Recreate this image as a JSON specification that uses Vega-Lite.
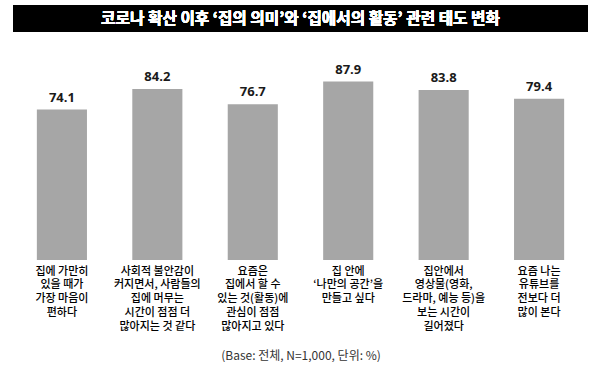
{
  "$schema": "https://vega.github.io/schema/vega-lite/v6.json",
  "background": "white",
  "padding": {"left": 13, "top": 5, "right": 12, "bottom": 0},
  "config": {
    "view": {"stroke": null},
    "font": "Noto Sans CJK KR"
  },
  "data": {
    "values": [
      {"label": "집에 가만히|있을 때가|가장 마음이|편하다", "value": 74.1},
      {"label": "사회적 불안감이|커지면서, 사람들의|집에 머무는|시간이 점점 더|많아지는 것 같다", "value": 84.2},
      {"label": "요즘은|집에서 할 수|있는 것(활동)에|관심이 점점|많아지고 있다", "value": 76.7},
      {"label": "집 안에|‘나만의 공간’을|만들고 싶다", "value": 87.9},
      {"label": "집안에서|영상물(영화,|드라마, 예능 등)을|보는 시간이|길어졌다", "value": 83.8},
      {"label": "요즘 나는|유튜브를|전보다 더|많이 본다", "value": 79.4}
    ]
  },
  "vconcat": [
    {
      "width": 575,
      "height": 27,
      "view": {"fill": "black", "stroke": null},
      "mark": {
        "type": "text",
        "text": "코로나 확산 이후 ‘집의 의미’와 ‘집에서의 활동’ 관련 태도 변화",
        "color": "white",
        "font": "Noto Sans CJK KR",
        "fontSize": 15.7,
        "fontWeight": "bold"
      },
      "encoding": {}
    },
    {
      "width": 575,
      "height": 203,
      "encoding": {
        "x": {
          "field": "label",
          "type": "nominal",
          "sort": null,
          "scale": {"paddingInner": 0.475, "paddingOuter": 0.25},
          "axis": {
            "title": "(Base: 전체, N=1,000, 단위: %)",
            "titleFont": "Noto Sans CJK KR",
            "titleFontSize": 12,
            "titleFontWeight": "normal",
            "titleColor": "#333333",
            "titlePadding": 19,
            "labelExpr": "split(datum.label, '|')",
            "labelAngle": 0,
            "labelFont": "Noto Sans CJK KR",
            "labelFontSize": 11,
            "labelFontWeight": 500,
            "labelColor": "#000000",
            "labelLineHeight": 13.8,
            "labelPadding": 5,
            "labelLimit": 200,
            "ticks": false,
            "tickSize": 0,
            "domain": false,
            "grid": false
          }
        },
        "y": {
          "field": "value",
          "type": "quantitative",
          "scale": {"domain": [0, 100], "nice": false},
          "axis": null
        }
      },
      "layer": [
        {"mark": {"type": "bar", "color": "#a6a6a6"}},
        {
          "mark": {
            "type": "text",
            "baseline": "bottom",
            "dy": -5,
            "font": "Open Sans",
            "fontSize": 13,
            "fontWeight": "bold",
            "color": "#1a1a1a"
          },
          "encoding": {"text": {"field": "value", "type": "quantitative", "format": ".1f"}}
        }
      ]
    }
  ],
  "spacing": 25
}
